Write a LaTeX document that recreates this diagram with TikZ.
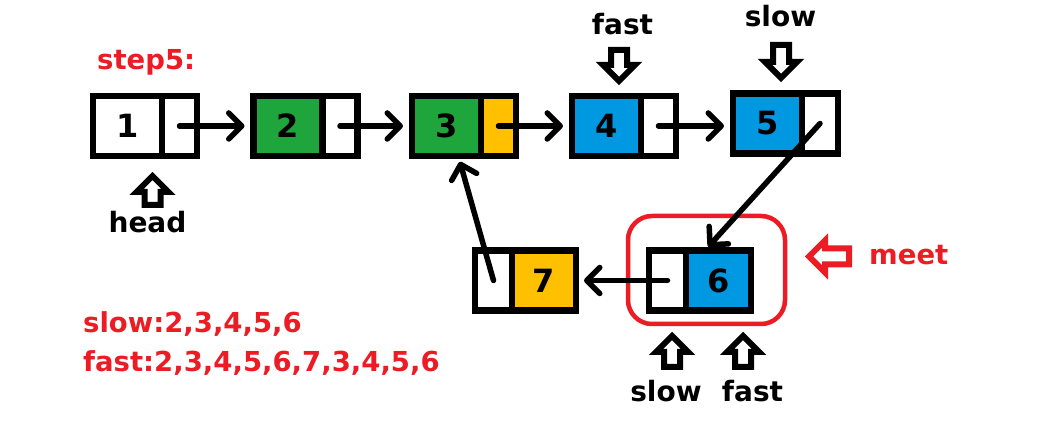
\documentclass[tikz,border=0pt]{standalone}
\usepackage{fontspec}
\setmainfont{DejaVu Sans}
\usetikzlibrary{arrows.meta,calc}
\definecolor{lgreen}{RGB}{30,165,60}
\definecolor{lblue}{RGB}{0,152,224}
\definecolor{lyellow}{RGB}{255,192,0}
\definecolor{lred}{RGB}{236,28,36}
\tikzset{
 cell/.style={draw, line width=6.5pt, inner sep=0pt, outer sep=0pt, minimum height=60pt, font=\fontsize{32}{38}\selectfont\bfseries},
 datacell/.style={cell, minimum width=69pt},
 linkcell/.style={cell, minimum width=35pt, fill=white},
 linkarrow/.style={line width=5.5pt, line cap=round, -{Straight Barb[length=13pt,width=26pt,round]}},
 redtxt/.style={text=lred, font=\fontsize{27.5}{33}\selectfont\bfseries, inner sep=0pt},
 lbl/.style={font=\fontsize{28}{34}\selectfont\bfseries, inner sep=0pt},
 meetframe/.style={draw=lred, line width=4.5pt, rounded corners=24pt, inner sep=0pt, minimum width=157pt, minimum height=108pt},
 pics/blockarrow/.style={code={\draw[line width=6pt, line join=miter, fill=white] (-8,0) -- (-8,{16-#1}) -- (-16,{16-#1}) -- (0,{-#1}) -- (16,{16-#1}) -- (8,{16-#1}) -- (8,0) -- cycle;}}
}
\begin{document}
\begin{tikzpicture}[x=1pt,y=-1pt]
\useasboundingbox (0,0) rectangle (1042,446);
% meet frame
\node[meetframe] (meetbox) at (706.5,270) {};
% list cells, row 1
\node[datacell] (d1) at (127.5,126) {1};
\node[linkcell, anchor=west] (p1) at (d1.east) {};
\node[datacell, fill=lgreen] (d2) at (288,126) {2};
\node[linkcell, anchor=west] (p2) at (d2.east) {};
\node[datacell, fill=lgreen] (d3) at (446.5,126) {3};
\node[linkcell, anchor=west, fill=lyellow] (p3) at (d3.east) {};
\node[datacell, fill=lblue] (d4) at (606.5,126) {4};
\node[linkcell, anchor=west] (p4) at (d4.east) {};
\node[datacell, fill=lblue] (d5) at (767.5,123.5) {5};
\node[linkcell, anchor=west, minimum width=36pt] (p5) at (d5.east) {};
% row 2
\node[datacell, fill=lyellow, minimum width=64pt] (d7) at (544,280.5) {7};
\node[linkcell, anchor=east, minimum width=37pt] (p7) at (d7.west) {};
\node[datacell, fill=lblue, minimum width=65pt] (d6) at (718.5,280.5) {6};
\node[linkcell, anchor=east, minimum width=37pt] (p6) at (d6.west) {};
% connectors
\draw[linkarrow, shorten >=9pt] (p1.center) -- (d2.west);
\draw[linkarrow, shorten >=9pt] (p2.center) -- (d3.west);
\draw[linkarrow, shorten >=9pt] (p3.center) -- (d4.west);
\draw[linkarrow, shorten >=9pt] (p4.center) -- (p4.center -| d5.west);
\draw[linkarrow, shorten >=5pt] (p5.center) -- ($(d6.north west)!0.29!(d6.north east)$);
\draw[linkarrow, shorten >=8pt] (p6.center) -- (d7.east);
\draw[linkarrow, shorten >=6pt] (p7.center) -- ($(d3.south west)!0.67!(d3.south east)$);
% texts
\node[redtxt, anchor=base west] (step) at (97,70) {step5:};
\node[lbl, anchor=base] (headlbl) at (147.5,233) {head};
\node[lbl, anchor=base] (fasttop) at (622.5,35) {fast};
\node[lbl, anchor=base] (slowtop) at (780.5,27) {slow};
\node[lbl, anchor=base] (slowbot) at (666,402) {slow};
\node[lbl, anchor=base] (fastbot) at (752.5,402) {fast};
\node[redtxt, anchor=base west] (meet) at (869,265) {meet};
\node[redtxt, anchor=base west] (slowseq) at (83,333) {slow:2,3,4,5,6};
\node[redtxt, anchor=base west] (fastseq) at (83,372) {fast:2,3,4,5,6,7,3,4,5,6};
% pointer arrows
\pic at (152.5,205) {blockarrow=29};
\pic[rotate=180] at (619,50) {blockarrow=31};
\pic[rotate=180] at (781,45) {blockarrow=33};
\pic at (672,367) {blockarrow=31};
\pic at (743,367) {blockarrow=31};
\pic[color=lred, rotate=90] at (849,256.5) {blockarrow=40};
\end{tikzpicture}
\end{document}
